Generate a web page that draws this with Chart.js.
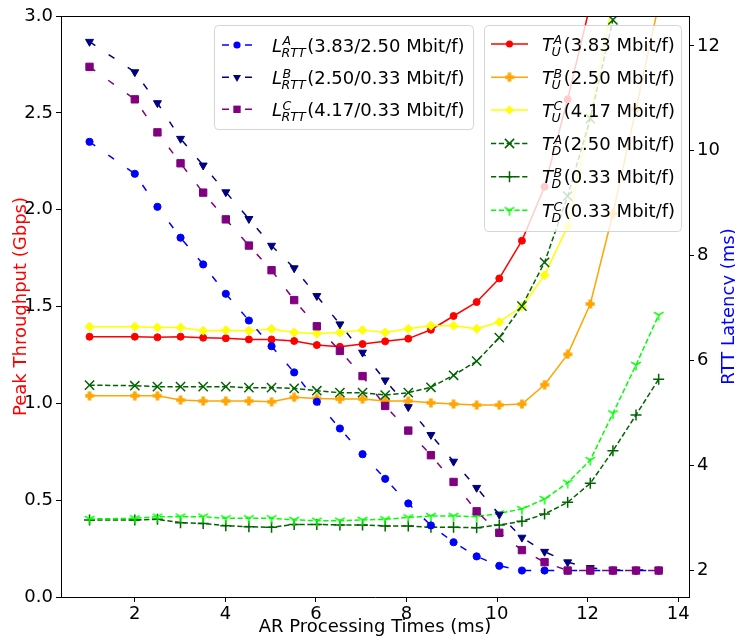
<!DOCTYPE html>
<html lang="en">
<head>
<meta charset="UTF-8">
<title>AR Processing Times vs Throughput and RTT</title>
<script src="https://cdn.jsdelivr.net/npm/chart.js"></script>
<style>
  html, body { margin: 0; padding: 0; background: #fff; }
  #wrap { width: 735px; height: 639px; position: relative; }
</style>
</head>
<body>
<div id="wrap"><canvas id="chart"></canvas></div>
<script>
// x values (ms)
const procTimes = [1.00, 2.00, 2.50, 3.01, 3.51, 4.01, 4.52, 5.02, 5.52, 6.02, 6.53, 7.03, 7.53,
                   8.04, 8.54, 9.04, 9.55, 10.05, 10.55, 11.05, 11.56, 12.06, 12.56, 13.07, 13.57];

// RTT latency (ms), right axis
const rttA = [10.17, 9.56, 8.93, 8.34, 7.83, 7.27, 6.76, 6.27, 5.77, 5.21, 4.70, 4.21, 3.74,
              3.27, 2.85, 2.53, 2.26, 2.08, 1.99, 1.99, 1.99, 1.99, 1.99, 1.99, 1.99];
const rttB = [12.08, 11.50, 10.91, 10.23, 9.72, 9.21, 8.70, 8.19, 7.76, 7.23, 6.69, 6.15, 5.62,
              5.11, 4.58, 4.07, 3.57, 3.06, 2.62, 2.35, 2.15, 2.04, 2.00, 2.00, 2.00];
const rttC = [11.60, 10.98, 10.35, 9.76, 9.20, 8.69, 8.19, 7.72, 7.15, 6.65, 6.18, 5.70, 5.13,
              4.66, 4.19, 3.68, 3.12, 2.71, 2.38, 2.15, 1.99, 1.99, 1.99, 1.99, 1.99];

// peak throughput (Gbps), left axis
const upA = [1.344, 1.344, 1.341, 1.344, 1.339, 1.336, 1.330, 1.330, 1.322, 1.301, 1.292, 1.306, 1.320,
             1.334, 1.380, 1.451, 1.523, 1.645, 1.840, 2.118, 2.57, 3.06, null, null, null];
const upB = [1.039, 1.039, 1.039, 1.017, 1.012, 1.012, 1.012, 1.008, 1.031, 1.025, 1.022, 1.022, 1.012,
             1.012, 1.003, 0.996, 0.991, 0.991, 0.996, 1.096, 1.253, 1.513, 1.98, 2.52, 3.06];
const upC = [1.396, 1.396, 1.392, 1.392, 1.375, 1.378, 1.375, 1.384, 1.366, 1.360, 1.366, 1.378, 1.366,
             1.385, 1.401, 1.401, 1.385, 1.420, 1.499, 1.662, 1.915, 2.48, 3.08, null, null];
const downA = [1.094, 1.091, 1.086, 1.086, 1.086, 1.086, 1.081, 1.081, 1.077, 1.065, 1.055, 1.055, 1.043,
               1.055, 1.083, 1.145, 1.218, 1.339, 1.502, 1.728, 2.07, 2.47, 2.98, 3.6, null];
const downB = [0.398, 0.398, 0.401, 0.384, 0.380, 0.368, 0.363, 0.360, 0.375, 0.375, 0.372, 0.372, 0.367,
               0.367, 0.360, 0.360, 0.358, 0.372, 0.391, 0.428, 0.489, 0.587, 0.755, 0.940, 1.125];
const downC = [0.403, 0.406, 0.415, 0.415, 0.415, 0.406, 0.406, 0.406, 0.398, 0.394, 0.394, 0.398, 0.401,
               0.411, 0.418, 0.418, 0.415, 0.432, 0.454, 0.506, 0.590, 0.707, 0.948, 1.198, 1.456];

const xTicks = [2, 4, 6, 8, 10, 12, 14];
const tputTicks = [0, 0.5, 1.0, 1.5, 2.0, 2.5, 3.0];
const rttTicks = [2, 4, 6, 8, 10, 12];

const FONT = 'DejaVu Sans';

// custom markers: filled plus ('P') and tri_down ('1')
function plusMarker(color) {
    const c = document.createElement('canvas');
    c.width = 10; c.height = 10;
    const g = c.getContext('2d');
    g.fillStyle = color;
    g.fillRect(3.2, 0.5, 3.6, 9);
    g.fillRect(0.5, 3.2, 9, 3.6);
    return c;
}
function triDownMarker(color) {
    const c = document.createElement('canvas');
    c.width = 12; c.height = 12;
    const g = c.getContext('2d');
    g.strokeStyle = color;
    g.lineWidth = 1.5;
    g.beginPath();
    g.moveTo(6, 6); g.lineTo(6, 11.5);
    g.moveTo(6, 6); g.lineTo(1.2, 3.2);
    g.moveTo(6, 6); g.lineTo(10.8, 3.2);
    g.stroke();
    return c;
}

const plusOrange = plusMarker('#ffa500');
const triLime = triDownMarker('#00ff00');

const LDASH = [7, 16];
const TDASH = [5.2, 2.6];

const series = {
    rttA:  { ys: rttA,  axis: 'y1', color: '#0000ff', dash: LDASH, style: 'circle', r: 3.6 },
    rttB:  { ys: rttB,  axis: 'y1', color: '#000080', dash: LDASH, style: 'triangle', r: 4.6, rot: 180 },
    rttC:  { ys: rttC,  axis: 'y1', color: '#800080', dash: LDASH, style: 'rect', r: 5.2 },
    upA:   { ys: upA,   axis: 'y',  color: '#ff0000', dash: [], style: 'circle', r: 3.5 },
    upB:   { ys: upB,   axis: 'y',  color: '#ffa500', dash: [], style: plusOrange, r: 4 },
    upC:   { ys: upC,   axis: 'y',  color: '#ffff00', dash: [], style: 'rectRot', r: 4.4 },
    downA: { ys: downA, axis: 'y',  color: '#006400', dash: TDASH, style: 'crossRot', r: 6.5 },
    downB: { ys: downB, axis: 'y',  color: '#006400', dash: TDASH, style: 'cross', r: 5.5 },
    downC: { ys: downC, axis: 'y',  color: '#00ff00', dash: TDASH, style: triLime, r: 5 }
};

function makeDataset(key) {
    const s = series[key];
    return {
        label: key,
        data: procTimes.map((x, i) => ({ x: x, y: s.ys[i] })),
        yAxisID: s.axis,
        borderColor: s.color,
        backgroundColor: s.color,
        borderWidth: 1.5,
        borderDash: s.dash,
        pointStyle: s.style,
        pointRadius: s.r,
        pointRotation: s.rot || 0,
        pointBorderWidth: (s.style === 'crossRot' || s.style === 'cross') ? 1.5 : 1,
        pointBackgroundColor: s.color,
        pointBorderColor: s.color,
        tension: 0,
        fill: false
    };
}

// first dataset is drawn on top
const drawOrder = ['rttC', 'rttB', 'rttA', 'downC', 'downB', 'downA', 'upC', 'upB', 'upA'];

// legend entries
const leftLegend = [
    { key: 'rttA', main: 'L', sup: 'A', sub: 'RTT', rest: '(3.83/2.50 Mbit/f)' },
    { key: 'rttB', main: 'L', sup: 'B', sub: 'RTT', rest: '(2.50/0.33 Mbit/f)' },
    { key: 'rttC', main: 'L', sup: 'C', sub: 'RTT', rest: '(4.17/0.33 Mbit/f)' }
];
const rightLegend = [
    { key: 'upA',   main: 'T', sup: 'A', sub: 'U', rest: '(3.83 Mbit/f)' },
    { key: 'upB',   main: 'T', sup: 'B', sub: 'U', rest: '(2.50 Mbit/f)' },
    { key: 'upC',   main: 'T', sup: 'C', sub: 'U', rest: '(4.17 Mbit/f)' },
    { key: 'downA', main: 'T', sup: 'A', sub: 'D', rest: '(2.50 Mbit/f)' },
    { key: 'downB', main: 'T', sup: 'B', sub: 'D', rest: '(0.33 Mbit/f)' },
    { key: 'downC', main: 'T', sup: 'C', sub: 'D', rest: '(0.33 Mbit/f)' }
];

function drawMarker(ctx, s, x, y) {
    ctx.save();
    ctx.fillStyle = s.color;
    ctx.strokeStyle = s.color;
    ctx.setLineDash([]);
    const r = s.r;
    if (typeof s.style !== 'string') {
        ctx.drawImage(s.style, x - s.style.width / 2, y - s.style.height / 2);
    } else if (s.style === 'circle') {
        ctx.beginPath(); ctx.arc(x, y, r, 0, Math.PI * 2); ctx.fill();
    } else if (s.style === 'triangle') {
        ctx.beginPath();
        ctx.moveTo(x, y + r);
        ctx.lineTo(x - r * 0.866, y - r * 0.5);
        ctx.lineTo(x + r * 0.866, y - r * 0.5);
        ctx.closePath(); ctx.fill();
    } else if (s.style === 'rect') {
        const h = r * Math.SQRT1_2;
        ctx.fillRect(x - h, y - h, 2 * h, 2 * h);
    } else if (s.style === 'rectRot') {
        ctx.beginPath();
        ctx.moveTo(x, y - r); ctx.lineTo(x + r, y); ctx.lineTo(x, y + r); ctx.lineTo(x - r, y);
        ctx.closePath(); ctx.fill();
    } else if (s.style === 'crossRot') {
        const h = r * Math.SQRT1_2;
        ctx.lineWidth = 1.5;
        ctx.beginPath();
        ctx.moveTo(x - h, y - h); ctx.lineTo(x + h, y + h);
        ctx.moveTo(x - h, y + h); ctx.lineTo(x + h, y - h);
        ctx.stroke();
    } else if (s.style === 'cross') {
        ctx.lineWidth = 1.5;
        ctx.beginPath();
        ctx.moveTo(x - r, y); ctx.lineTo(x + r, y);
        ctx.moveTo(x, y - r); ctx.lineTo(x, y + r);
        ctx.stroke();
    }
    ctx.restore();
}

function drawLabel(ctx, item, x, y) {
    // y is the row centre; mathtext-like L^A_RTT
    ctx.save();
    ctx.fillStyle = '#000';
    ctx.textBaseline = 'alphabetic';
    ctx.textAlign = 'left';
    ctx.font = 'italic 18px "' + FONT + '"';
    ctx.fillText(item.main, x, y + 6.7);
    const mw = ctx.measureText(item.main).width;
    ctx.font = 'italic 12.6px "' + FONT + '"';
    const supX = x + mw + 0.5;
    ctx.fillText(item.sup, supX, y + 0.3);
    const subX = x + mw - (item.main === 'T' ? 1.5 : 0.5);
    ctx.fillText(item.sub, subX, y + 11.7);
    const end = Math.max(supX + ctx.measureText(item.sup).width, subX + ctx.measureText(item.sub).width);
    ctx.font = '18px "' + FONT + '"';
    ctx.fillText(item.rest, end + 1.5, y + 6.7);
    ctx.restore();
}

function drawLegendBox(ctx, box, items, rows, sx0, sx1, tx) {
    ctx.save();
    ctx.beginPath();
    ctx.roundRect(box.x, box.y, box.w, box.h, 4);
    ctx.fillStyle = 'rgba(255,255,255,0.8)';
    ctx.fill();
    ctx.strokeStyle = 'rgba(204,204,204,0.8)';
    ctx.lineWidth = 1;
    ctx.stroke();
    items.forEach((it, i) => {
        const s = series[it.key];
        const y = rows[i];
        ctx.save();
        ctx.strokeStyle = s.color;
        ctx.lineWidth = 1.5;
        ctx.setLineDash(s.dash);
        ctx.beginPath();
        ctx.moveTo(sx0, y); ctx.lineTo(sx1, y);
        ctx.stroke();
        ctx.restore();
        drawMarker(ctx, s, (sx0 + sx1) / 2, y);
        drawLabel(ctx, it, tx, y);
    });
    ctx.restore();
}

const extras = {
    id: 'extras',
    afterDatasetsDraw(chart) {
        const ctx = chart.ctx;
        drawLegendBox(ctx, { x: 214.5, y: 25.5, w: 259, h: 104 }, leftLegend,
                      [45, 77.3, 109.3], 222, 252, 272);
        drawLegendBox(ctx, { x: 484.5, y: 25.5, w: 197, h: 206 }, rightLegend,
                      [44, 77.3, 110, 143.5, 176.7, 210.3], 491, 528, 542);
    },
    afterDraw(chart) {
        const ctx = chart.ctx;
        const a = chart.chartArea;
        ctx.save();
        // top spine
        ctx.strokeStyle = '#000';
        ctx.lineWidth = 1;
        ctx.beginPath();
        ctx.moveTo(a.left, a.top + 0.5);
        ctx.lineTo(a.right, a.top + 0.5);
        ctx.stroke();
        // right axis title, reading bottom to top
        ctx.translate(729, (a.top + a.bottom) / 2);
        ctx.rotate(-Math.PI / 2);
        ctx.fillStyle = '#0000ff';
        ctx.font = '18px "' + FONT + '"';
        ctx.textAlign = 'center';
        ctx.textBaseline = 'middle';
        ctx.fillText('RTT Latency (ms)', 0, 0);
        ctx.restore();
    }
};

const tickFont = { family: FONT, size: 18 };
const axisGrid = { drawOnChartArea: false, drawTicks: true, tickLength: 5, color: '#000', tickWidth: 1 };
const axisBorder = { display: true, color: '#000', width: 1 };

new Chart(document.getElementById('chart').getContext('2d'), {
    type: 'line',
    data: { datasets: drawOrder.map(makeDataset) },
    options: {
        responsive: true,
        maintainAspectRatio: false,
        animation: false,
        devicePixelRatio: 1,
        layout: { padding: { top: 16, left: 0, right: 0, bottom: 0 } },
        plugins: { legend: { display: false }, tooltip: { enabled: false } },
        elements: { line: { borderJoinStyle: 'round' } },
        scales: {
            x: {
                type: 'linear',
                position: 'bottom',
                min: 0.37,
                max: 14.24,
                afterBuildTicks: s => { s.ticks = xTicks.map(v => ({ value: v })); },
                afterFit: s => { s.height = 42; },
                ticks: { font: tickFont, color: '#000', padding: 2, maxRotation: 0, callback: v => String(v) },
                grid: axisGrid,
                border: axisBorder,
                title: { display: true, text: 'AR Processing Times (ms)', color: '#000',
                         font: { family: FONT, size: 18 }, padding: { top: 0, bottom: 1.2 } }
            },
            y: {
                type: 'linear',
                position: 'left',
                min: 0,
                max: 3,
                afterBuildTicks: s => { s.ticks = tputTicks.map(v => ({ value: v })); },
                afterFit: s => { s.width = 61; },
                ticks: { font: tickFont, color: '#000', padding: 3, callback: v => v.toFixed(1) },
                grid: axisGrid,
                border: axisBorder,
                title: { display: true, text: 'Peak Throughput (Gbps)', color: '#ff0000',
                         font: { family: FONT, size: 18 }, padding: { top: 10.2, bottom: 0 } }
            },
            y1: {
                type: 'linear',
                position: 'right',
                min: 1.485,
                max: 12.57,
                afterBuildTicks: s => { s.ticks = rttTicks.map(v => ({ value: v })); },
                afterFit: s => { s.width = 46; },
                ticks: { font: tickFont, color: '#000', padding: 3, callback: v => String(v) },
                grid: axisGrid,
                border: axisBorder
            }
        }
    },
    plugins: [extras]
});
</script>
</body>
</html>
